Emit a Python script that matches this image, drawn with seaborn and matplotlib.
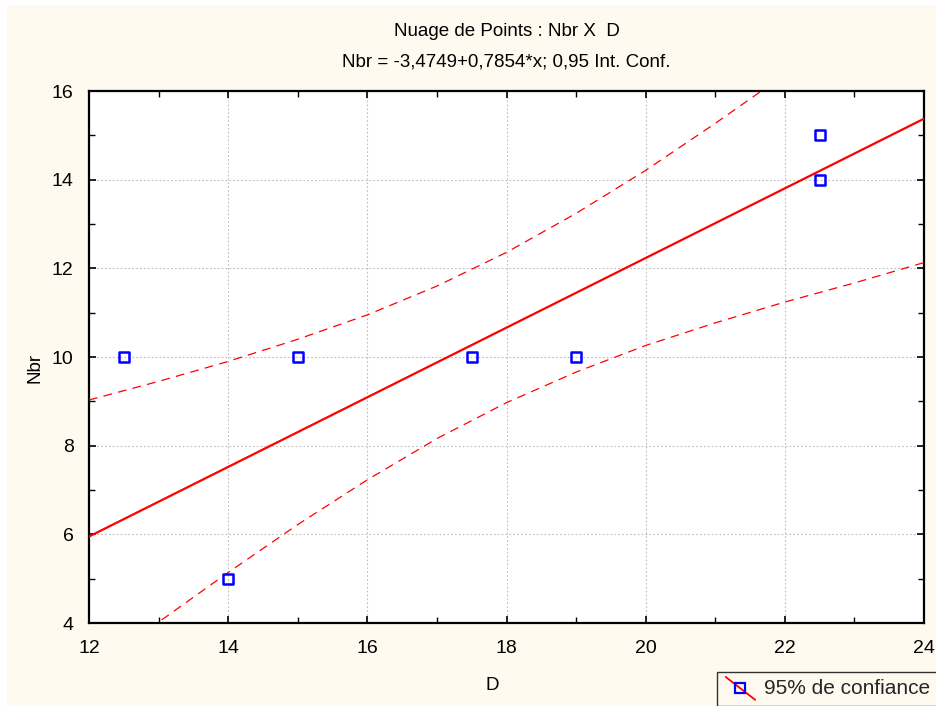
import numpy as np
import pandas as pd
import seaborn as sns
import matplotlib
matplotlib.use("Agg")
import matplotlib.pyplot as plt
from matplotlib.lines import Line2D
from matplotlib.patches import Rectangle
from matplotlib.legend_handler import HandlerLine2D

# ---- data ----
d_values = [12.5, 14.0, 15.0, 17.5, 19.0, 22.5, 22.5]
nbr_values = [10, 5, 10, 10, 10, 15, 14]

intercept = -3.4749
slope = 0.7854

ci_x = [12, 13, 14, 15, 16, 17, 18, 19, 20, 21, 22, 23, 24]
ci_upper = [9.03, 9.45, 9.90, 10.40, 10.95, 11.60, 12.36, 13.24, 14.21, 15.27, 16.37, 17.51, 18.63]
ci_lower = [2.87, 4.02, 5.14, 6.22, 7.23, 8.16, 8.97, 9.66, 10.26, 10.77, 11.24, 11.67, 12.13]

x_ticks = [12, 14, 16, 18, 20, 22, 24]
y_ticks = [4, 6, 8, 10, 12, 14, 16]

title1 = "Nuage de Points : Nbr X  D"
title2 = "Nbr = -3,4749+0,7854*x; 0,95 Int. Conf."
legend_label = "95% de confiance"

# ---- styling ----
sns.set_theme(style="white")
plt.rcParams["font.family"] = ["Liberation Sans", "DejaVu Sans"]

W, H = 936, 706
fig = plt.figure(figsize=(W / 100, H / 100), dpi=100, facecolor="white")
fig.patches.append(Rectangle((7 / W, 0), 1 - 7 / W, 1 - 5 / H, transform=fig.transFigure,
                             facecolor="#FFFAF0", edgecolor="none", zorder=-10))

ax = fig.add_axes([89 / W, 1 - 623 / H, (924 - 89) / W, (623 - 91) / H])
ax.set_facecolor("white")

df = pd.DataFrame({"D": d_values, "Nbr": nbr_values})
ci = pd.DataFrame({"x": ci_x, "upper": ci_upper, "lower": ci_lower})
fit = pd.DataFrame({"x": [min(x_ticks), max(x_ticks)]})
fit["y"] = intercept + slope * fit["x"]

sns.lineplot(data=fit, x="x", y="y", ax=ax, color="#FF0000", linewidth=1.6, zorder=3)
sns.lineplot(data=ci, x="x", y="upper", ax=ax, color="#FF0000", linewidth=0.9,
             dashes=False, linestyle=(0, (7, 5)), zorder=3)
sns.lineplot(data=ci, x="x", y="lower", ax=ax, color="#FF0000", linewidth=0.9,
             dashes=False, linestyle=(0, (7, 5)), zorder=3)
sns.scatterplot(data=df, x="D", y="Nbr", ax=ax, marker="s", s=52,
                facecolor="none", edgecolor="#0000FF", linewidth=1.8, zorder=4)

ax.set_xlim(12, 24)
ax.set_ylim(4, 16)
ax.set_xticks(x_ticks)
ax.set_yticks(y_ticks)
ax.set_xticks(np.arange(13, 24, 2), minor=True)
ax.set_yticks(np.arange(5, 16, 2), minor=True)
ax.grid(True, which="major", color="#BDBDBD", linestyle=(0, (1.5, 2)), linewidth=0.8)
ax.tick_params(axis="both", which="both", direction="in", top=True, right=True,
               bottom=True, left=True, color="black", labelsize=14, labelcolor="black")
ax.tick_params(which="major", length=5, width=1.2)
ax.tick_params(axis="x", which="major", pad=12)
ax.tick_params(axis="y", which="major", pad=11)
ax.tick_params(which="minor", length=4, width=1.0)
for s in ax.spines.values():
    s.set_color("black")
    s.set_linewidth(1.6)

ax.set_xlabel("D", fontsize=13.5, color="black")
ax.set_ylabel("Nbr", fontsize=13.5, color="black")
ax.xaxis.set_label_coords((492 - 89) / (924 - 89), -(686 - 623) / (623 - 91), transform=ax.transAxes)
ax.xaxis.label.set_va("center")
ax.yaxis.set_label_coords(-(89 - 35) / (924 - 89), (623 - 368) / (623 - 91), transform=ax.transAxes)
ax.yaxis.label.set_va("center")

cx = (89 + 924) / 2 / W
fig.text(cx, 1 - 32 / H, title1, ha="center", va="center", fontsize=13.5, color="black")
fig.text(cx, 1 - 62 / H, title2, ha="center", va="center", fontsize=13.5, color="black")


class DiagHandler(HandlerLine2D):
    def create_artists(self, legend, orig_handle, xdescent, ydescent, width, height,
                       fontsize, trans):
        line = Line2D([-xdescent + 1, -xdescent + width - 1],
                      [-ydescent + height + 2, -ydescent - 4],
                      color="#FF0000", linewidth=1.3, transform=trans)
        mk = Line2D([-xdescent + width / 2], [-ydescent + height / 2 - 1], marker="s",
                    markersize=6.5, markerfacecolor="none", markeredgecolor="#0000FF",
                    markeredgewidth=1.6, linestyle="none", transform=trans)
        return [line, mk]


handle = Line2D([], [], color="#FF0000", marker="s")
leg = fig.legend([handle], [legend_label], loc="upper left",
                 bbox_to_anchor=(717 / W, 1 - 672 / H), bbox_transform=fig.transFigure,
                 handler_map={Line2D: DiagHandler()}, frameon=True, fancybox=False,
                 fontsize=15, handlelength=1.55, handletextpad=0.35, borderpad=0.35,
                 borderaxespad=0)
leg.get_frame().set_edgecolor("black")
leg.get_frame().set_linewidth(1.0)
leg.get_frame().set_facecolor("#FFFAF0")

fig.savefig("out.png", dpi=100)
